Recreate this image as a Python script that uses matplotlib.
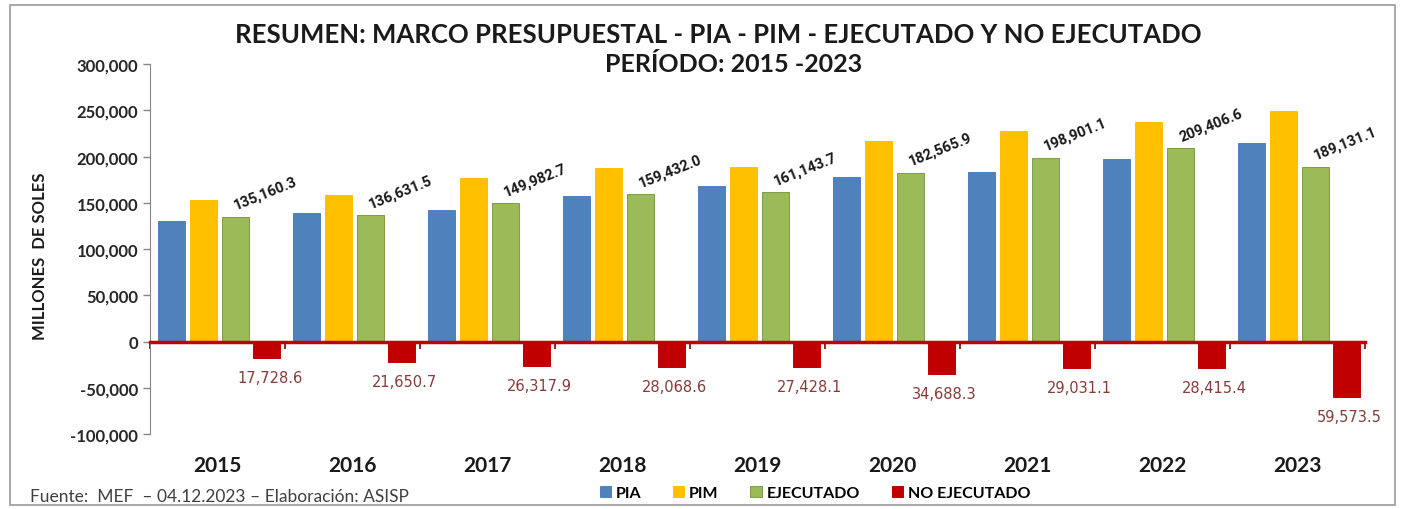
import numpy as np
import matplotlib.pyplot as plt
from matplotlib.patches import Rectangle


years = ['2015', '2016', '2017', '2018', '2019', '2020', '2021', '2022', '2023']
pia = [130621.0, 138491.0, 142472.0, 157159.0, 168074.0, 177368.0, 183030.0, 197002.0, 214790.0]
pim = [152888.9, 158282.2, 176300.6, 187500.6, 188571.8, 217254.2, 227932.2, 237822.0, 248704.6]
ejecutado = [135160.3, 136631.5, 149982.7, 159432.0, 161143.7, 182565.9, 198901.1, 209406.6, 189131.1]
no_ejecutado = [17728.6, 21650.7, 26317.9, 28068.6, 27428.1, 34688.3, 29031.1, 28415.4, 59573.5]

series_names = ['PIA', 'PIM', 'EJECUTADO', 'NO EJECUTADO']
colors = ['#4F81BD', '#FFC000', '#9BBB59', '#C00000']
edges = ['#4F81BD', '#FFC000', '#7f9a4a', '#C00000']

plt.rcParams['font.family'] = ['Lato', 'DejaVu Sans']

fig = plt.figure(figsize=(14.05, 5.10), dpi=100)
ax = fig.add_axes([0.1068, 0.147, 0.8647, 0.7255])

x = np.arange(len(years))
width = 0.2
offsets = [0.16, 0.395, 0.63, 0.865]

neg = -np.array(no_ejecutado)
values = [pia, pim, ejecutado, neg]
for vals, off, col, ec, name in zip(values, offsets, colors, edges, series_names):
    ax.bar(x + off, vals, width, color=col, edgecolor=ec, linewidth=0.7,
           label=name, zorder=2)

# executed values, rotated above the green bars
for xi, v in zip(x, ejecutado):
    ax.annotate(f'{v:,.1f}', (xi + offsets[2], v), xytext=(22, 17),
                textcoords='offset points', rotation=22,
                rotation_mode='anchor', ha='center', va='center',
                fontsize=10.5, fontweight='bold', color='#1a1a1a',
                family=['Roboto', 'DejaVu Sans'])

# not executed values, below the red bars
for xi, v in zip(x, no_ejecutado):
    ax.annotate(f'{v:,.1f}', (xi + offsets[3], -v), xytext=(2, -14),
                textcoords='offset points', ha='center', va='center',
                fontsize=10.5, color='#843c39', family=['DejaVu Sans'])

ax.set_xlim(0, len(years))
ax.set_ylim(-100000, 300000)
ax.set_yticks(np.arange(-100000, 300001, 50000))
ax.yaxis.set_major_formatter(plt.FuncFormatter(lambda v, p: f'{v:,.0f}'))
for lbl in ax.get_yticklabels():
    lbl.set_fontweight('bold')
ax.tick_params(axis='y', labelsize=12, colors='#868686', labelcolor='#262626',
               length=5, width=1)

ax.spines['top'].set_visible(False)
ax.spines['right'].set_visible(False)
ax.spines['left'].set_color('#868686')
ax.spines['bottom'].set_position(('data', 0))
ax.spines['bottom'].set_color('#C00000')
ax.spines['bottom'].set_linewidth(2.5)
ax.spines['bottom'].set_zorder(3)
ax.set_xticks(np.arange(len(years) + 1))
ax.set_xticklabels([])
ax.tick_params(axis='x', length=5, width=1.2, colors='#7a0000')

sec = ax.secondary_xaxis('bottom')
sec.spines['bottom'].set_visible(False)
sec.set_xticks(x + 0.5)
sec.set_xticklabels(years, fontsize=15, fontweight='bold', color='#1a1a1a')
sec.tick_params(length=0, pad=15)

fig.text(0.511, 0.932, 'RESUMEN: MARCO PRESUPUESTAL - PIA - PIM - EJECUTADO Y NO EJECUTADO',
         ha='center', va='center', fontsize=18.5, fontweight='bold', color='#1a1a1a')
fig.text(0.522, 0.873, 'PERÍODO: 2015 -2023', ha='center', va='center',
         fontsize=18, fontweight='bold', color='#1a1a1a')

fig.text(40 / 1405, 0.497, 'MILLONES  DE SOLES', rotation=90, ha='center', va='center',
         fontsize=12, fontweight='bold', color='#1a1a1a')

fig.text(30 / 1405, 0.026, 'Fuente:  MEF  – 04.12.2023 – Elaboración: ASISP',
         ha='left', va='center', fontsize=12.5, color='#404040')

fig.legend(loc='center', bbox_to_anchor=(0.58, 0.031), ncol=4, frameon=False,
           handlelength=0.7, handleheight=0.7, handletextpad=0.3, columnspacing=2.0,
           prop={'weight': 'bold', 'size': 11.5})

fig.patches.append(Rectangle((0.007, 0.008), 0.986, 0.98, transform=fig.transFigure,
                             fill=False, edgecolor='#9a9a9a', linewidth=1.2))

fig.savefig('out.png', dpi=100)
